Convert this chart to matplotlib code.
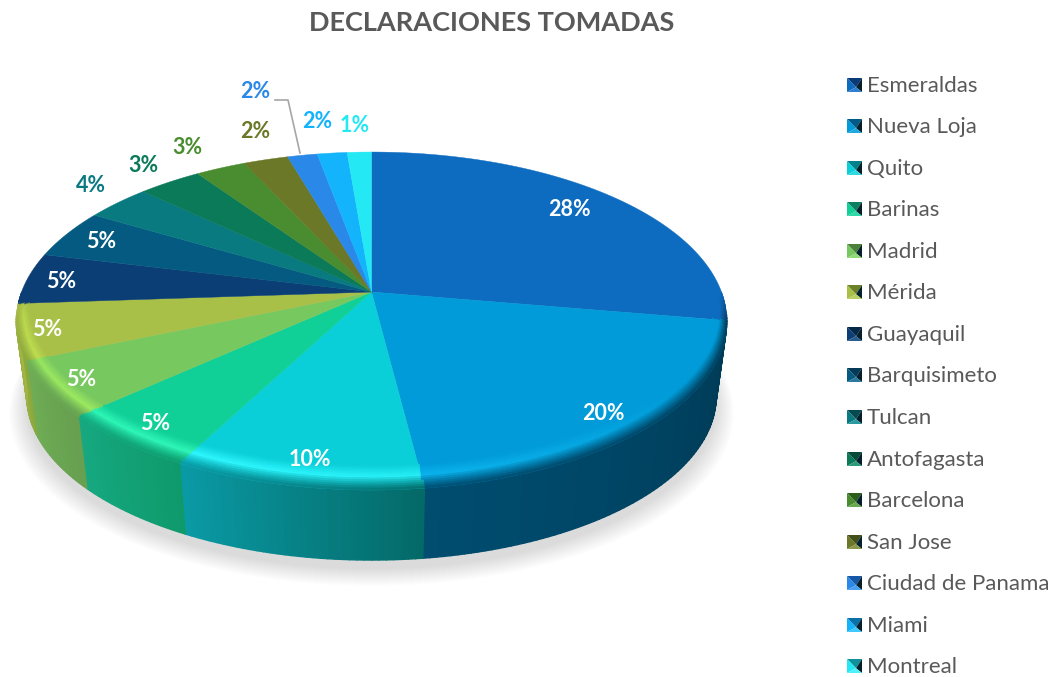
import numpy as np
import matplotlib
matplotlib.use("Agg")
import matplotlib.pyplot as plt
from matplotlib.patches import Polygon
from matplotlib.collections import PolyCollection
from matplotlib.colors import to_rgb

# ---- data ----
categories = ["Esmeraldas", "Nueva Loja", "Quito", "Barinas", "Madrid", "Mérida", "Guayaquil",
              "Barquisimeto", "Tulcan", "Antofagasta", "Barcelona", "San Jose",
              "Ciudad de Panama", "Miami", "Montreal"]
values = [27.7, 20.3, 9.7, 5.6, 5.3, 5.3, 4.9, 4.7, 3.5, 3.4, 2.7, 2.4, 1.6, 1.6, 1.3]
pct_labels = ["28%", "20%", "10%", "5%", "5%", "5%", "5%", "5%", "4%", "3%", "3%", "2%", "2%", "2%", "1%"]

# ---- style ----
top_colors = ["#0e6cc0", "#009bd8", "#0acfd8", "#10d098", "#78c860", "#a8c048", "#0a3e74", "#045a80",
              "#087a80", "#0a7a58", "#4a8c30", "#6a7828", "#2a88e8", "#14b4fc", "#24e8f4"]
wall_right = ["#0a3f70", "#003a55", "#046a68", "#0f9a6c", "#66a050", "#8aa83c", "#0a3e74", "#045a80",
              "#087a80", "#0a7a58", "#4a8c30", "#6a7828", "#2a88e8", "#14b4fc", "#24e8f4"]
wall_left = ["#0a3f70", "#004d70", "#0a9aa5", "#16a880", "#6fad55", "#a8b848", "#0a3e74", "#045a80",
             "#087a80", "#0a7a58", "#4a8c30", "#6a7828", "#2a88e8", "#14b4fc", "#24e8f4"]
rim_colors = ["#1080d8", "#10bcf4", "#30f8ff", "#30f8b8", "#a0ec60", "#c4e450", "#0a3e74", "#045a80",
              "#087a80", "#0a7a58", "#4a8c30", "#6a7828", "#2a88e8", "#14b4fc", "#24e8f4"]
swatch_dark = ["#0a3a78", "#005a88", "#008088", "#0a8060", "#4a8038", "#6c8028", "#062848", "#043a58",
               "#054a50", "#064a38", "#2e5c1e", "#44501a", "#1658a8", "#0a70a8", "#10909a"]
swatch_light = ["#2f7fd0", "#20a8e0", "#30d8e0", "#30d8a8", "#90d878", "#b8d060", "#2a5c90", "#2a7aa0",
                "#2a9aa0", "#2a9a78", "#68a850", "#8a9848", "#4aa0f0", "#40c8ff", "#50f0f8"]
label_xy = [(569, 209), (603, 412), (310, 458), (155, 422), (81, 378), (47, 328), (61, 280), (101, 241),
            (91, 185), (143, 164), (187, 147), (255, 131), (255, 91), (317, 121), (355, 125)]
label_colors = ["white"] * 8 + ["#0a7a80", "#0a7a58", "#4a8c30", "#6a7828", "#2a88e8", "#14b4fc", "#24e8f4"]
legend_y = [85, 126, 168, 209, 251, 292, 334, 375, 417, 459, 500, 542, 583, 625, 666]
FONT = "Lato"
GREY = "#595959"

# perspective projection of the disc
CX, CY, A, B, P = 371.5, 292.0, 350.0, 164.0, 0.1716
DEPTH, BOTTOM_SCALE = 76.0, 0.97


def project(theta, r=1.0, drop=0.0, scale=1.0):
    u = np.sin(theta) * r
    v = np.cos(theta) * r
    w = 1 + P * v
    return np.column_stack([CX + scale * A * u / w, CY + drop - scale * B * v / w])


def disc_angle(x, y):
    Y = -(y - CY) / B
    v = Y / (1 - P * Y)
    u = (x - CX) * (1 + P * v) / A
    return np.arctan2(u, v) % (2 * np.pi)


def mix(c1, c2, t):
    a, b = np.array(to_rgb(c1)), np.array(to_rgb(c2))
    return tuple(a + (b - a) * t)


fig = plt.figure(figsize=(10.52, 6.77), dpi=100)
ax = fig.add_axes([0, 0, 1, 1])
ax.set_xlim(0, 1052)
ax.set_ylim(677, 0)
ax.axis("off")

cum = np.concatenate([[0], np.cumsum(values)]) / np.sum(values) * 2 * np.pi

# soft shadow under the pie
full = np.linspace(0, 2 * np.pi, 361)
for k in range(18):
    t = k / 17
    ax.fill(*project(full, 1.0, DEPTH + 16 - 7 * t, BOTTOM_SCALE + 0.05 - 0.05 * t).T,
            color="#000000", alpha=0.009, lw=0, zorder=1)

# side wall with a per-slice horizontal gradient
for i in range(len(values)):
    n = max(2, int(np.degrees(cum[i + 1] - cum[i])))
    th = np.linspace(cum[i], cum[i + 1], n + 1)
    top = project(th)
    bot = project(th, 1.0, DEPTH, BOTTOM_SCALE)
    polys, cols = [], []
    for j in range(n):
        if np.cos(0.5 * (th[j] + th[j + 1])) > -P + 0.03:
            continue
        polys.append([top[j], top[j + 1], bot[j + 1], bot[j]])
        cols.append(mix(wall_right[i], wall_left[i], j / max(1, n - 1)))
    if polys:
        ax.add_collection(PolyCollection(polys, facecolors=cols, edgecolors=cols, linewidths=1.0, zorder=2))

# top surface
for i in range(len(values)):
    th = np.linspace(cum[i], cum[i + 1], 80)
    pts = np.vstack([[CX, CY], project(th)])
    ax.add_patch(Polygon(pts, closed=True, facecolor=top_colors[i], edgecolor=top_colors[i], lw=0.3, zorder=3))

# bevel along the near rim: highlight, then fade into the wall colour
steps = np.linspace(0, 1, 13)
phi = np.radians(np.arange(60, 300.01, 0.4))
polys, cols = [], []
for j in range(len(phi) - 1):
    for k in range(len(steps) - 1):
        t0, t1 = steps[k], steps[k + 1]
        tm = 0.5 * (t0 + t1)
        a, b = project(phi[j:j + 2], 0.965 + 0.035 * t0, -16 * (1 - t0))
        c, d = project(phi[j:j + 2], 0.965 + 0.035 * t1, -16 * (1 - t1))
        centre = (a + b + c + d) / 4
        ang = disc_angle(centre[0], centre[1])
        strength = np.clip(-np.cos(ang) / 0.15, 0, 1)
        if strength <= 0:
            continue
        i = int(np.clip(np.searchsorted(cum, ang) - 1, 0, len(values) - 1))
        pos = (ang - cum[i]) / (cum[i + 1] - cum[i])
        front = np.clip(0.05 + 0.95 * np.cos(ang - np.radians(215)), 0, 1)
        wall = mix(wall_right[i], wall_left[i], pos)
        glow = np.interp(tm, [0, 0.45, 0.7, 1], [0, 1, 0.6, 0]) * front
        fade = np.interp(tm, [0.45, 1], [0, 1])
        col = mix(mix(top_colors[i], rim_colors[i], glow), wall, fade)
        polys.append([a, b, d, c])
        cols.append(mix(top_colors[i], col, strength))
ax.add_collection(PolyCollection(polys, facecolors=cols, edgecolors=cols, linewidths=0.4, zorder=4))

# leader line
ax.plot([275, 288, 300], [100, 100, 153], color="#a6a6a6", lw=1.2, zorder=5)

# data labels
for txt, (x, y), col in zip(pct_labels, label_xy, label_colors):
    ax.text(x, y + 1, txt, color=col, fontsize=15.5, fontweight="bold", family=FONT,
            ha="center", va="center", zorder=6)

# title
ax.text(491.5, 23, "DECLARACIONES TOMADAS", color=GREY, fontsize=19.5, fontweight="bold", family=FONT,
        ha="center", va="center")

# legend with bevelled swatches
for name, y, base, dark, light in zip(categories, legend_y, top_colors, swatch_dark, swatch_light):
    x0, x1, y0, y1 = 847, 862, y - 7, y + 7
    xc, yc = x0 + 0.6 * (x1 - x0), y0 + 0.66 * (y1 - y0)
    ax.add_patch(Polygon([(x0, y0), (x1, y0), (xc, yc)], facecolor=dark, lw=0, zorder=5))
    ax.add_patch(Polygon([(x0, y0), (x0, y1), (xc, yc)], facecolor=base, lw=0, zorder=5))
    ax.add_patch(Polygon([(x1, y0), (x1, y1), (xc, yc)], facecolor="#04202c", lw=0, zorder=5))
    ax.add_patch(Polygon([(x0, y1), (x1, y1), (xc, yc)], facecolor=light, lw=0, zorder=5))
    ax.text(867, y + 1, name, color=GREY, fontsize=16, family=FONT, ha="left", va="center")

fig.savefig("out.png", dpi=100, facecolor="white")
